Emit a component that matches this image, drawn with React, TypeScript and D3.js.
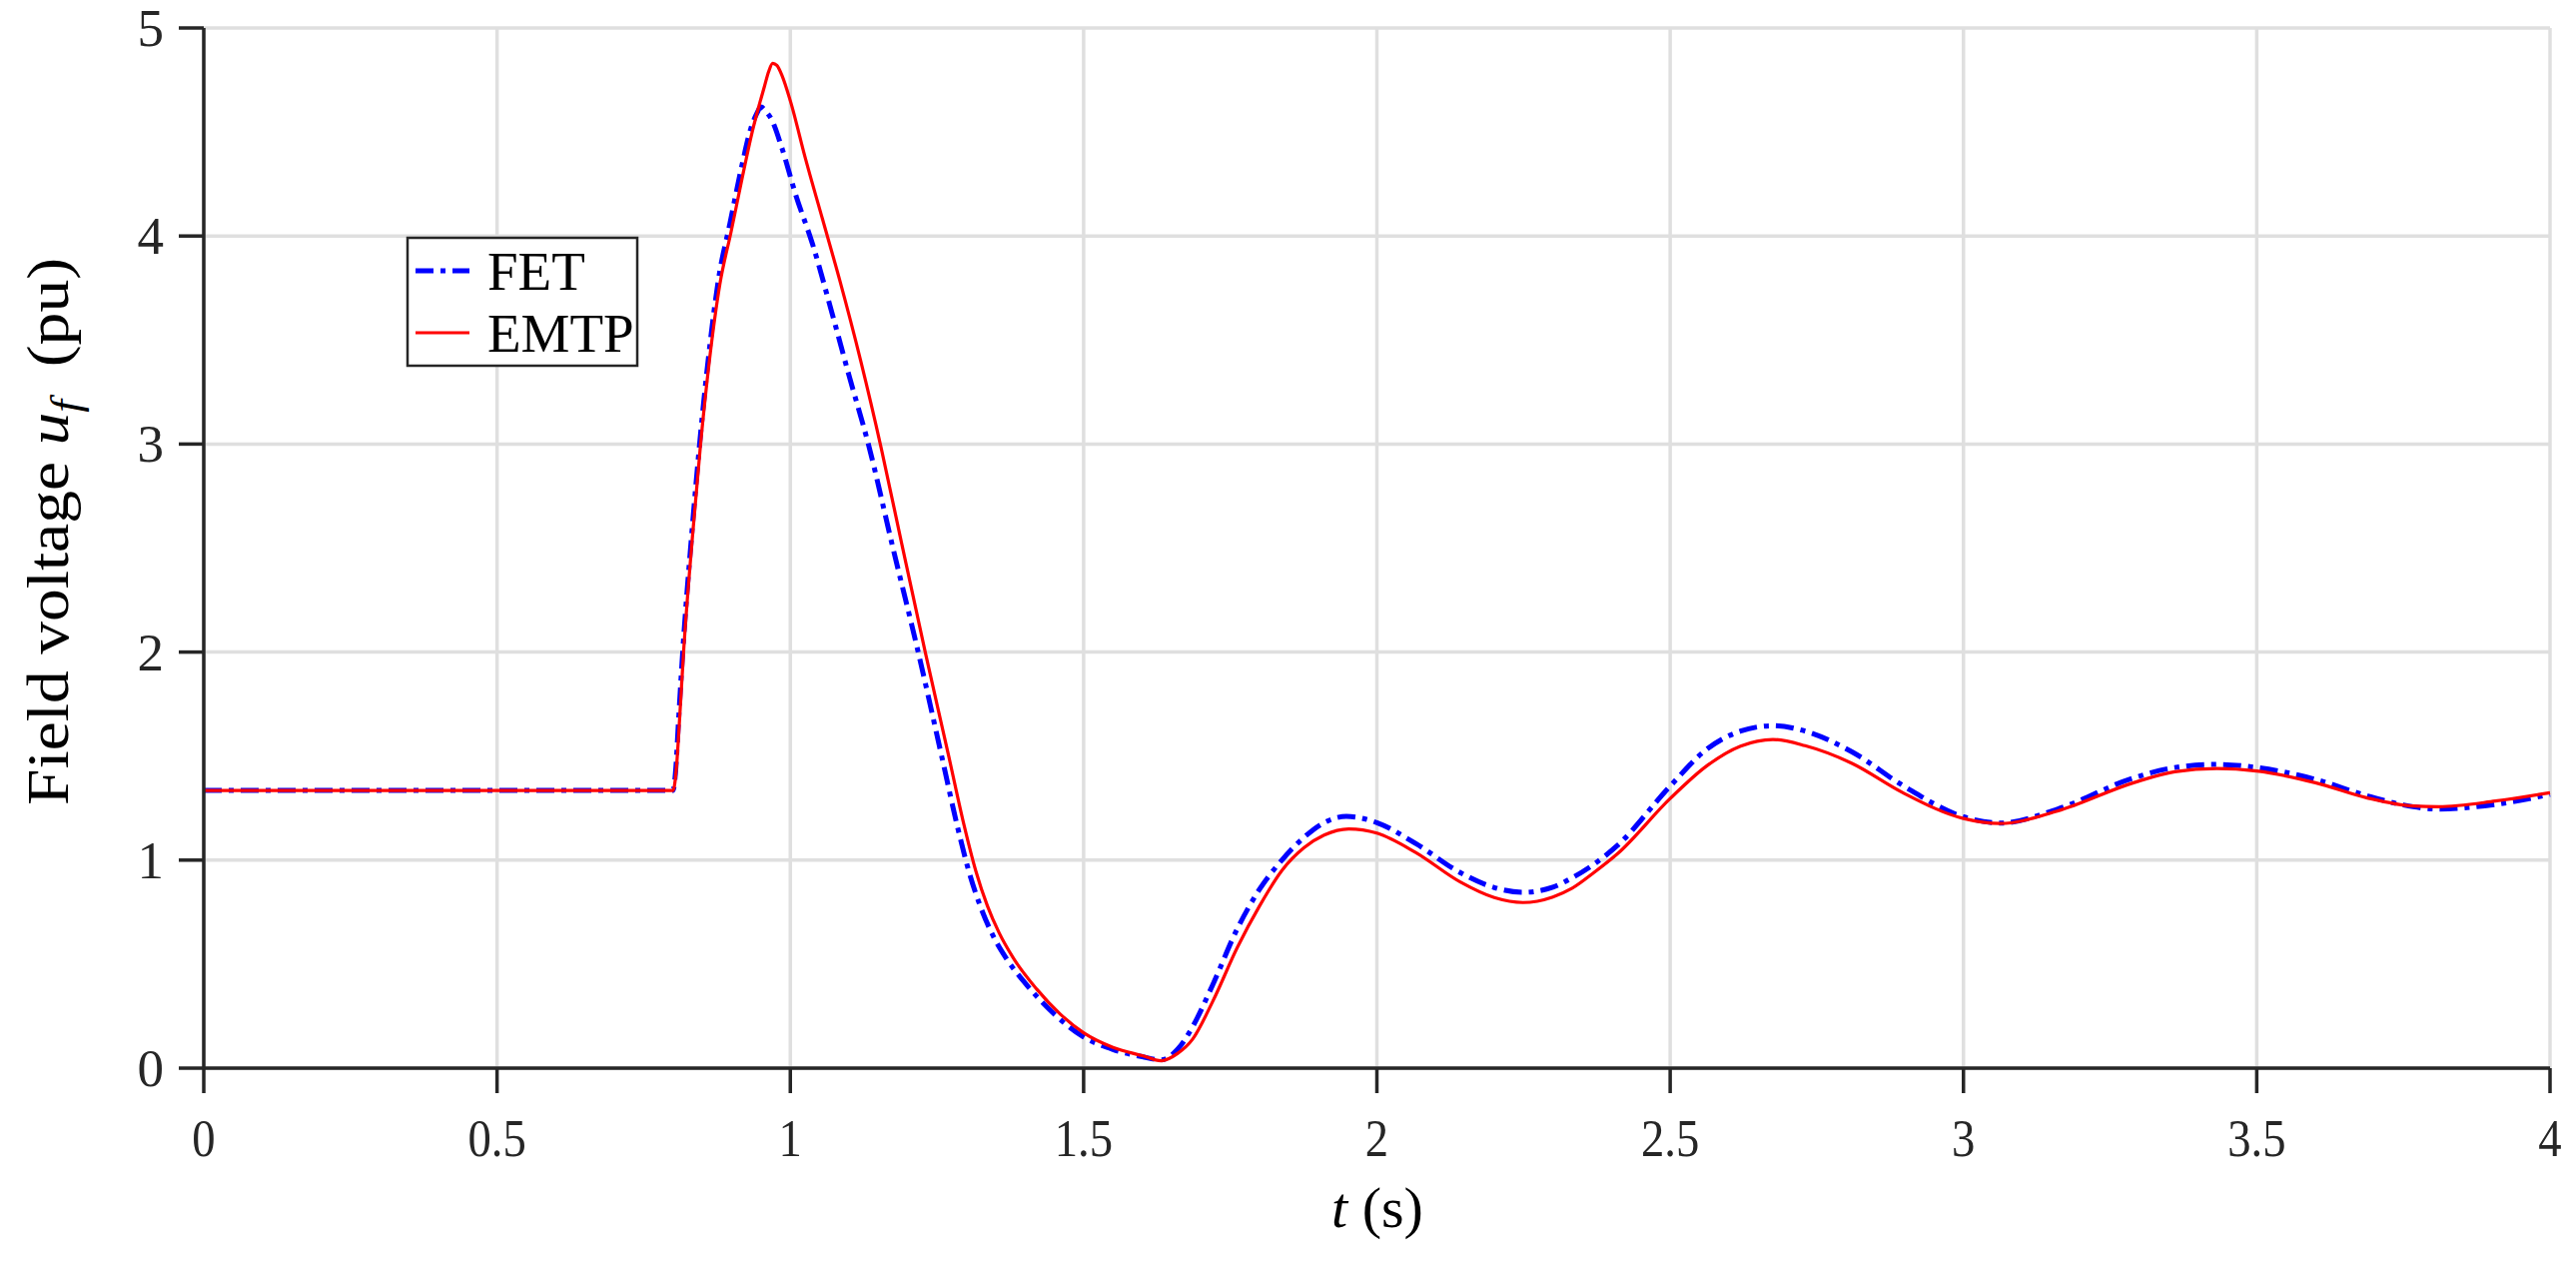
import React from "react";
import * as d3 from "d3";

const fetT = [0, 0.2, 0.4, 0.6, 0.8, 0.805, 0.809, 0.817, 0.832, 0.846, 0.861, 0.878, 0.897, 0.916, 0.933, 0.943, 0.95, 0.958, 0.968, 0.986, 1.009, 1.038, 1.072, 1.1, 1.133, 1.175, 1.218, 1.258, 1.285, 1.305, 1.325, 1.345, 1.37, 1.4, 1.45, 1.5, 1.55, 1.6, 1.632, 1.66, 1.686, 1.72, 1.762, 1.8, 1.838, 1.876, 1.91, 1.948, 2.0, 2.066, 2.142, 2.2, 2.249, 2.3, 2.333, 2.37, 2.41, 2.5, 2.561, 2.62, 2.675, 2.73, 2.81, 2.896, 3.0, 3.063, 3.16, 3.29, 3.36, 3.432, 3.5, 3.6, 3.687, 3.75, 3.81, 3.907, 4.0];
const fetV = [1.335, 1.335, 1.335, 1.335, 1.335, 1.45, 1.65, 2.02, 2.57, 3.02, 3.43, 3.8, 4.06, 4.32, 4.52, 4.59, 4.62, 4.6, 4.56, 4.42, 4.2, 3.96, 3.62, 3.33, 3.0, 2.5, 2.0, 1.5, 1.16, 0.94, 0.77, 0.64, 0.52, 0.41, 0.26, 0.15, 0.09, 0.055, 0.04, 0.09, 0.2, 0.4, 0.67, 0.86, 1.0, 1.11, 1.18, 1.21, 1.18, 1.08, 0.94, 0.868, 0.845, 0.87, 0.915, 0.98, 1.07, 1.356, 1.53, 1.62, 1.646, 1.62, 1.52, 1.36, 1.208, 1.178, 1.245, 1.395, 1.445, 1.46, 1.445, 1.388, 1.31, 1.265, 1.245, 1.268, 1.316];

const emtpT = [0, 0.2, 0.4, 0.6, 0.8, 0.806, 0.81, 0.818, 0.833, 0.847, 0.862, 0.88, 0.899, 0.918, 0.935, 0.947, 0.956, 0.963, 0.97, 0.977, 0.986, 1.0, 1.026, 1.055, 1.084, 1.12, 1.155, 1.19, 1.23, 1.27, 1.296, 1.316, 1.336, 1.356, 1.38, 1.42, 1.46, 1.5, 1.55, 1.6, 1.632, 1.66, 1.686, 1.72, 1.762, 1.8, 1.838, 1.876, 1.91, 1.952, 2.0, 2.066, 2.142, 2.2, 2.249, 2.3, 2.333, 2.37, 2.41, 2.5, 2.561, 2.62, 2.675, 2.73, 2.81, 2.896, 3.0, 3.063, 3.16, 3.29, 3.36, 3.432, 3.5, 3.6, 3.687, 3.766, 3.81, 3.907, 4.0];
const emtpV = [1.335, 1.335, 1.335, 1.335, 1.335, 1.45, 1.62, 2.0, 2.55, 3.0, 3.4, 3.77, 4.02, 4.28, 4.5, 4.63, 4.72, 4.79, 4.83, 4.82, 4.77, 4.65, 4.37, 4.08, 3.79, 3.4, 2.98, 2.52, 2.0, 1.5, 1.17, 0.95, 0.78, 0.65, 0.53, 0.38, 0.26, 0.17, 0.1, 0.06, 0.035, 0.07, 0.14, 0.32, 0.58, 0.78, 0.95, 1.06, 1.12, 1.15, 1.13, 1.037, 0.895, 0.82, 0.796, 0.823, 0.865, 0.94, 1.03, 1.296, 1.45, 1.548, 1.58, 1.55, 1.465, 1.325, 1.2, 1.176, 1.236, 1.372, 1.425, 1.44, 1.428, 1.372, 1.3, 1.26, 1.257, 1.284, 1.324];

const xTicks = [0, 0.5, 1, 1.5, 2, 2.5, 3, 3.5, 4];
const xTickLabels = ["0", "0.5", "1", "1.5", "2", "2.5", "3", "3.5", "4"];
const yTicks = [0, 1, 2, 3, 4, 5];
const yTickLabels = ["0", "1", "2", "3", "4", "5"];
const seriesNames = ["FET", "EMTP"];

const W = 2579;
const H = 1262;
const FONT = "'Liberation Serif', 'Times New Roman', serif";
const AXIS = "#262626";
const GRID = "#dfdfdf";

export default function App() {
  const x = d3.scaleLinear().domain([0, 4]).range([204, 2553]);
  const y = d3.scaleLinear().domain([0, 5]).range([1069, 28]);
  const line = d3
    .line<[number, number]>()
    .x((d) => x(d[0]))
    .y((d) => y(d[1]))
    .curve(d3.curveMonotoneX);
  const fetPts = fetT.map((t, i) => [t, fetV[i]] as [number, number]);
  const emtpPts = emtpT.map((t, i) => [t, emtpV[i]] as [number, number]);
  const tickLen = 25;
  const dash = "18,7,5,7";

  return (
    <svg
      width={W}
      height={H}
      style={{ position: "absolute", left: 0, top: 0, background: "#fff" }}
    >
      <rect x={0} y={0} width={W} height={H} fill="#fff" />
      {xTicks.map((t) => (
        <line key={"gx" + t} x1={x(t)} x2={x(t)} y1={y(0)} y2={y(5)} stroke={GRID} strokeWidth={3.5} />
      ))}
      {yTicks.map((v) => (
        <line key={"gy" + v} x1={x(0)} x2={x(4)} y1={y(v)} y2={y(v)} stroke={GRID} strokeWidth={3.5} />
      ))}
      <path d={line(fetPts) || ""} fill="none" stroke="#0000ff" strokeWidth={5} strokeDasharray={dash} />
      <path d={line(emtpPts) || ""} fill="none" stroke="#ff0000" strokeWidth={3.2} />
      <line x1={x(0)} x2={x(4)} y1={y(0)} y2={y(0)} stroke={AXIS} strokeWidth={3.5} />
      <line x1={x(0)} x2={x(0)} y1={y(0)} y2={y(5)} stroke={AXIS} strokeWidth={3.5} />
      {xTicks.map((t, i) => (
        <g key={"xt" + t}>
          <line x1={x(t)} x2={x(t)} y1={y(0)} y2={y(0) + tickLen} stroke={AXIS} strokeWidth={3.5} />
          <text
            x={x(t)}
            y={1157}
            textAnchor="middle"
            fontFamily={FONT}
            fontSize={53}
            fill={AXIS}
            transform={`translate(${x(t)},0) scale(0.88,1) translate(${-x(t)},0)`}
          >
            {xTickLabels[i]}
          </text>
        </g>
      ))}
      {yTicks.map((v, i) => (
        <g key={"yt" + v}>
          <line x1={x(0) - tickLen} x2={x(0)} y1={y(v)} y2={y(v)} stroke={AXIS} strokeWidth={3.5} />
          <text x={164} y={y(v) + 18} textAnchor="end" fontFamily={FONT} fontSize={53} fill={AXIS}>
            {yTickLabels[i]}
          </text>
        </g>
      ))}
      <text x={1379} y={1228} textAnchor="middle" fontFamily={FONT} fontSize={58} fill="#000">
        <tspan fontStyle="italic">t</tspan>
        <tspan> (s)</tspan>
      </text>
      <text
        transform="translate(68,806) rotate(-90)"
        x={0}
        y={0}
        textAnchor="start"
        fontFamily={FONT}
        fontSize={60}
        fill="#000"
        textLength={548}
        lengthAdjust="spacingAndGlyphs"
      >
        <tspan>Field voltage </tspan>
        <tspan fontStyle="italic">u</tspan>
        <tspan fontStyle="italic" fontSize={42} dy={12}>f</tspan>
        <tspan dy={-12}>{"\u00a0\u00a0(pu)"}</tspan>
      </text>
      <rect x={408} y={238} width={230} height={128} fill="#fff" stroke="#262626" strokeWidth={2.5} />
      <line x1={416} x2={470} y1={271} y2={271} stroke="#0000ff" strokeWidth={5} strokeDasharray={dash} />
      <line x1={416} x2={470} y1={333} y2={333} stroke="#ff0000" strokeWidth={3.2} />
      <text x={488} y={290} fontFamily={FONT} fontSize={55} fill="#000">{seriesNames[0]}</text>
      <text x={488} y={352} fontFamily={FONT} fontSize={55} fill="#000">{seriesNames[1]}</text>
    </svg>
  );
}
